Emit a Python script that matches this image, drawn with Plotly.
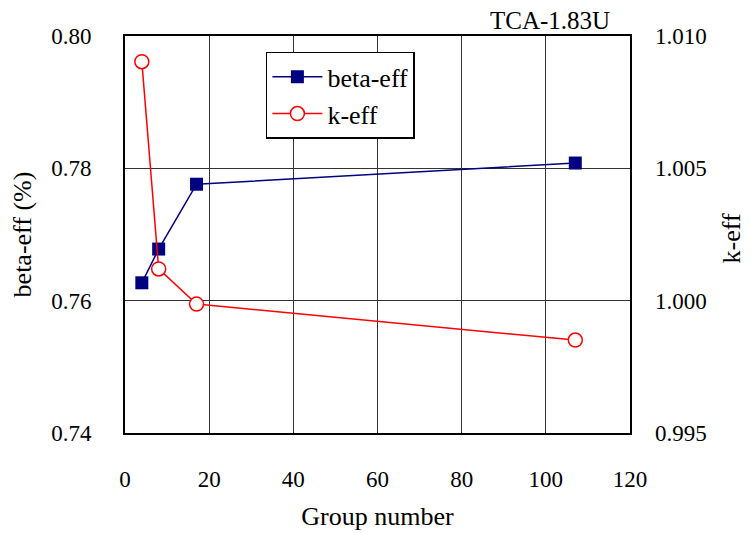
import plotly.graph_objects as go

groups = [4, 8, 17, 107]
beta_eff = [0.7627, 0.7678, 0.7776, 0.7808]
k_eff = [1.00903, 1.0012, 0.99987, 0.99851]

x_ticks = [0, 20, 40, 60, 80, 100, 120]
left_ticks = [0.74, 0.76, 0.78, 0.80]
right_ticks = [0.995, 1.000, 1.005, 1.010]

FONT = "Liberation Serif"
TICKFONT = dict(family=FONT, size=23, color="black")
TITLEFONT = dict(family=FONT, size=26, color="black")

fig = go.Figure()
fig.add_trace(go.Scatter(
    x=groups, y=beta_eff, name="beta-eff", mode="lines+markers",
    line=dict(color="#000080", width=1.5),
    marker=dict(symbol="square", size=13, color="#000080"),
    legendgroup="a",
))
fig.add_trace(go.Scatter(
    x=groups, y=k_eff, name="k-eff", mode="lines+markers", yaxis="y2",
    line=dict(color="#ff0000", width=1.5),
    marker=dict(symbol="circle", size=14, color="white", line=dict(color="#ff0000", width=1.5)),
    legendgroup="b",
))

fig.update_layout(
    width=746, height=525,
    margin=dict(l=117, r=124, t=28, b=100, autoexpand=False),
    paper_bgcolor="white", plot_bgcolor="white",
    font=dict(family=FONT, size=22, color="black"),
    showlegend=True,
    legend=dict(
        x=0.279, y=0.96, xanchor="left", yanchor="top",
        bordercolor="black", borderwidth=1.5, bgcolor="white",
        font=dict(family=FONT, size=26, color="black"), tracegroupgap=0,
        itemwidth=50,
    ),
    xaxis=dict(
        range=[0, 120], tickvals=x_ticks, ticktext=[str(v) for v in x_ticks],
        tickfont=TICKFONT, automargin=False,
        showgrid=True, gridcolor="#333333", gridwidth=1,
        showline=True, linecolor="black", linewidth=2, mirror=True,
        zeroline=False, ticks="", ticklabelstandoff=24,
        title=dict(text="Group number", font=TITLEFONT, standoff=16),
    ),
    yaxis=dict(
        range=[0.74, 0.80], tickvals=left_ticks, ticktext=["0.74", "0.76", "0.78", "0.80"],
        tickfont=TICKFONT, automargin=False,
        showgrid=True, gridcolor="#333333", gridwidth=1,
        showline=True, linecolor="black", linewidth=2, mirror=True,
        zeroline=False, ticks="", ticklabelstandoff=27,
        title=dict(text="beta-eff (%)", font=TITLEFONT, standoff=16),
    ),
    yaxis2=dict(
        range=[0.995, 1.010], tickvals=right_ticks, ticktext=["0.995", "1.000", "1.005", "1.010"],
        tickfont=TICKFONT, automargin=False,
        overlaying="y", side="right", showgrid=False, zeroline=False,
        ticks="", ticklabelstandoff=24,
    ),
    annotations=[
        dict(
            text="TCA-1.83U", xref="paper", yref="paper", x=0.842, y=1.0,
            xanchor="center", yanchor="bottom", showarrow=False,
            font=dict(family=FONT, size=25, color="black"),
        ),
        dict(
            text="k-eff", xref="paper", yref="paper", x=1.200, y=0.49,
            xanchor="center", yanchor="middle", textangle=-90, showarrow=False,
            font=TITLEFONT,
        ),
    ],
)
fig.write_html("out.html")
